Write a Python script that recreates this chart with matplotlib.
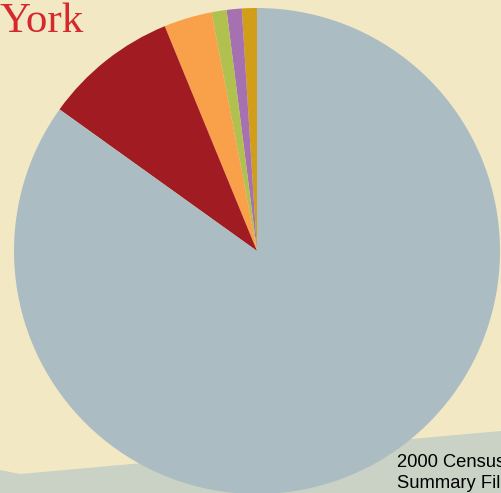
import numpy as np
import matplotlib.pyplot as plt
from matplotlib.patches import Polygon

# race / ethnicity shares (percent)
groups = ['White', 'Black', 'Hispanic', 'Asian', 'Two or more', 'Other']
shares = [84.9, 8.9, 3.2, 1.0, 1.0, 1.0]
colors = ['#abbdc2', '#a01b22', '#f9a04a', '#b0c150', '#a571b0', '#d09e19']
source = ['2000 Census', 'Summary File']

W, H = 501, 493
fig = plt.figure(figsize=(W / 100, H / 100), dpi=100)
fig.patch.set_facecolor('#f2e8c4')
ax = fig.add_axes([0, 0, 1, 1])

# greyish strip along the bottom
strip = Polygon([(0, H - 470), (20, H - 474), (W, H - 431), (W, 0), (0, 0)],
                closed=True, facecolor='#c9d2c4', edgecolor='none', zorder=0)
ax.add_patch(strip)

# pie goes counter-clockwise from the top, small slices first
order = [5, 4, 3, 2, 1, 0]
ax.pie([shares[i] for i in order], colors=[colors[i] for i in order],
       startangle=90, counterclock=True, center=(257, H - 251), radius=243,
       wedgeprops=dict(linewidth=0), frame=True)
ax.set_xlim(0, W)
ax.set_ylim(0, H)
ax.set_aspect('equal')
ax.axis('off')

ax.text(-1, H - 32, 'York', fontsize=31, color='#d42a2e',
        family='Liberation Serif', ha='left', va='baseline', zorder=5)
for k, line in enumerate(source):
    ax.text(397, H - 467 - 21 * k, line, fontsize=13.2, color='black',
            family='Liberation Sans', ha='left', va='baseline', zorder=5)

plt.savefig('out.png', dpi=100, facecolor=fig.get_facecolor())
